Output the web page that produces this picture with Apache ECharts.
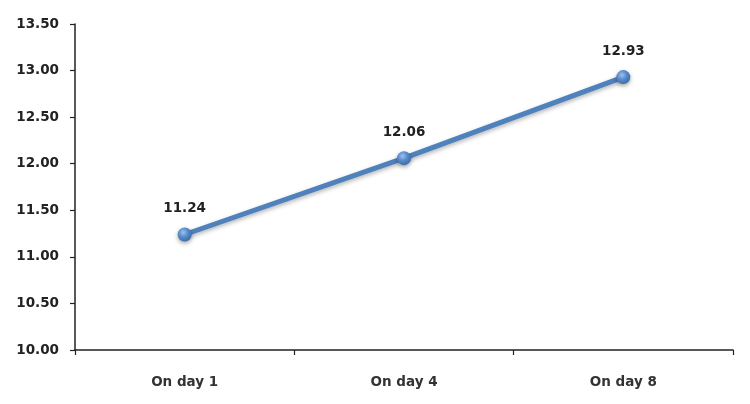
<!DOCTYPE html>
<html><head><meta charset="utf-8">
<script src="https://cdn.jsdelivr.net/npm/echarts@6/dist/echarts.min.js"></script>
<style>html,body{margin:0;padding:0;background:#fff}#c{width:750px;height:404px}</style>
</head><body><div id="c"></div>
<script>
const categories = ['On day 1', 'On day 4', 'On day 8'];
const values = [11.24, 12.06, 12.93];
const yTicks = { min: 10, max: 13.5, interval: 0.5 };

const FONT = 'DejaVu Sans';
const chart = echarts.init(document.getElementById('c'), null, { renderer: 'canvas' });
chart.setOption({
  animation: false,
  grid: { left: 75, right: 17, top: 24, bottom: 54, containLabel: false },
  xAxis: {
    type: 'category',
    data: categories,
    boundaryGap: true,
    axisLine: { lineStyle: { color: '#222', width: 1.5 } },
    axisTick: { show: true, length: 5, inside: false, lineStyle: { color: '#222', width: 1.2 } },
    axisLabel: { color: '#333', fontFamily: FONT, fontWeight: 'bold', fontSize: 13.5, margin: 25 },
    splitLine: { show: false }
  },
  yAxis: {
    type: 'value',
    min: yTicks.min, max: yTicks.max, interval: yTicks.interval,
    axisLine: { show: true, lineStyle: { color: '#222', width: 1.5 } },
    axisTick: { show: true, length: 5, lineStyle: { color: '#222', width: 1.2 } },
    axisLabel: { color: '#222', fontFamily: FONT, fontWeight: 'bold', fontSize: 13.5, margin: 16,
      formatter: v => v.toFixed(2) },
    splitLine: { show: false }
  },
  series: [{
    type: 'line',
    data: values,
    symbol: 'circle',
    symbolSize: 14,
    lineStyle: { color: '#4f81bd', width: 5, shadowColor: 'rgba(0,0,0,0.3)', shadowBlur: 4, shadowOffsetY: 2 },
    itemStyle: {
      color: new echarts.graphic.RadialGradient(0.4, 0.35, 0.7, [
        { offset: 0, color: '#9dc0ee' }, { offset: 0.5, color: '#5589c8' }, { offset: 1, color: '#3a6aa5' }
      ]),
      borderWidth: 0, shadowColor: 'rgba(0,0,0,0.35)', shadowBlur: 4, shadowOffsetY: 2 },
    label: { show: true, position: 'top', distance: 12, color: '#222', fontFamily: FONT, fontWeight: 'bold', fontSize: 13.5,
      formatter: p => p.value.toFixed(2) }
  }]
});
</script></body></html>
